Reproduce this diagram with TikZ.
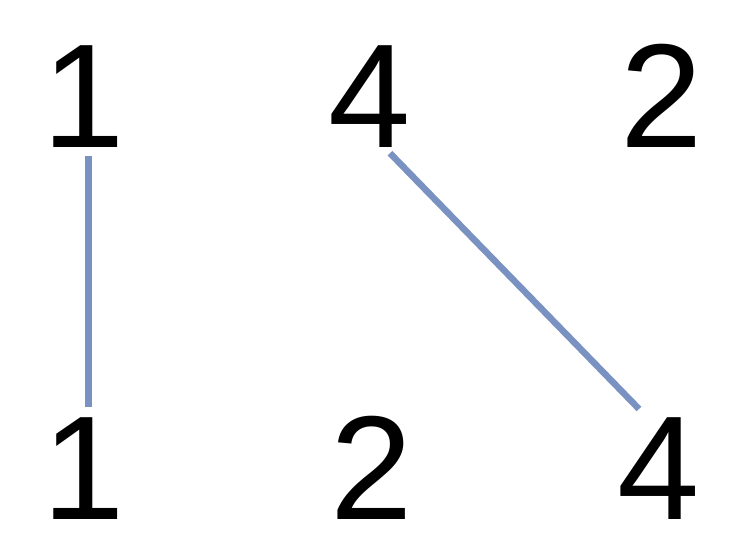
\documentclass[tikz,border=0pt]{standalone}
\usepackage{fontspec}
\setmainfont{Liberation Sans}
\definecolor{linkblue}{RGB}{122,146,194}
\tikzset{
	digit/.style={inner sep=0pt, anchor=base, font=\fontsize{148}{148}\selectfont},
	link/.style={draw=linkblue, line width=6.5pt}
}
\begin{document}
\begin{tikzpicture}[x=1pt, y=1pt]
	\useasboundingbox (0,0) rectangle (750,-542);

	%top row
	\node[digit] (t1) at (83.5,-147) {1};
	\node[digit] (t4) at (370,-147) {4};
	\node[digit] (t2) at (662,-147) {2};

	%bottom row
	\node[digit] (b1) at (83.5,-519) {1};
	\node[digit] (b2) at (372,-519) {2};
	\node[digit] (b4) at (659,-519) {4};

	\draw [link] ([shift={(5,-9)}]t1.south) -- ([shift={(5,10)}]b1.north);
	\draw [link] ([shift={(20,-6)}]t4.south) -- ([shift={(-20,8)}]b4.north);

\end{tikzpicture}
\end{document}
